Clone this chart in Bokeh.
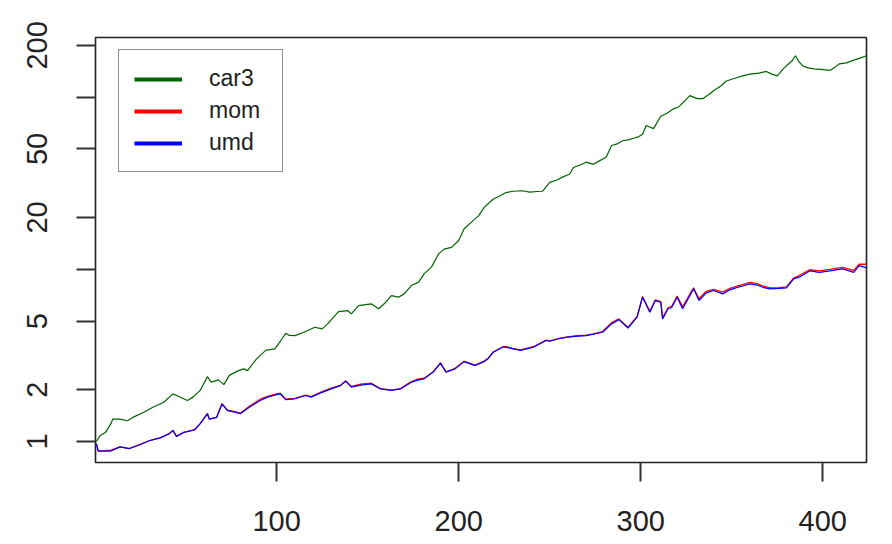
from bokeh.plotting import figure
from bokeh.models import (Range1d, FixedTicker, PrintfTickFormatter, Legend, LegendItem)
from bokeh.embed import file_html
from bokeh.resources import INLINE

# ---- data ----
car3_x = [1, 3, 6, 9, 10, 14, 18, 21, 27, 32, 38, 43, 46, 51, 54, 58, 62, 64, 68, 71,
          74, 79, 82, 84, 89, 94, 99, 103, 105, 107, 110, 115, 121, 125, 128, 134, 139,
          141, 145, 152, 156, 160, 163, 167, 170, 174, 178, 181, 185, 189, 192, 196, 200,
          203, 207, 211, 214, 219, 222, 226, 230, 235, 239, 243, 246, 250, 254, 257, 261,
          263, 267, 270, 274, 277, 281, 284, 287, 290, 293, 296, 299, 301, 303, 307, 311,
          314, 318, 321, 327, 331, 334, 337, 340, 344, 347, 350, 353, 356, 360, 365, 369,
          372, 375, 378, 380, 383, 385, 387, 389, 392, 395, 399, 404, 407, 409, 413, 417,
          420, 424]
car3_y = [1.0, 1.08, 1.13, 1.27, 1.35, 1.35, 1.32, 1.38, 1.48, 1.58, 1.69, 1.89, 1.83,
          1.73, 1.81, 1.98, 2.38, 2.21, 2.28, 2.14, 2.42, 2.58, 2.64, 2.58, 3.02, 3.38,
          3.45, 3.95, 4.25, 4.13, 4.12, 4.31, 4.61, 4.51, 4.82, 5.68, 5.76, 5.51, 6.16,
          6.3, 5.9, 6.44, 7.04, 6.89, 7.2, 8.05, 8.42, 9.4, 10.3, 12.3, 13.1, 13.4, 14.7,
          17.2, 18.8, 20.5, 22.9, 25.6, 26.5, 27.9, 28.4, 28.6, 28.1, 28.3, 28.4, 32.0,
          33.0, 34.3, 35.8, 39.0, 40.5, 41.9, 40.7, 42.5, 44.8, 52.4, 53.5, 55.8, 56.5,
          57.7, 59.0, 60.9, 68.4, 65.6, 77.5, 80.0, 85.5, 88.0, 102.0, 98.0, 98.0, 103.0,
          109.0, 116.0, 124.0, 127.0, 130.0, 133.0, 136.0, 138.0, 141.0, 136.0, 133.0,
          145.0, 152.0, 162.0, 174.0, 160.0, 152.0, 148.0, 146.0, 145.0, 143.0, 150.0,
          156.0, 158.0, 164.0, 168.0, 174.0]

fac_x = [1, 2, 9, 14, 19, 25, 30, 36, 41, 43, 45, 49, 55, 58, 62, 63, 67, 70, 73, 77,
         80, 85, 91, 95, 100, 102, 105, 110, 116, 119, 125, 130, 135, 138, 141, 147, 152,
         157, 163, 168, 174, 178, 181, 186, 190, 193, 198, 203, 209, 214, 216, 219, 224,
         226, 230, 234, 241, 248, 250, 255, 259, 264, 270, 274, 279, 284, 288, 293, 298,
         301, 305, 308, 311, 312, 315, 317, 320, 323, 329, 332, 336, 340, 345, 349, 353,
         356, 360, 364, 367, 371, 376, 380, 384, 387, 393, 398, 404, 408, 411, 417, 420,
         424]
umd_y = [0.97, 0.88, 0.88, 0.93, 0.91, 0.96, 1.01, 1.05, 1.11, 1.16, 1.07, 1.13, 1.17,
         1.27, 1.45, 1.35, 1.38, 1.65, 1.51, 1.48, 1.45, 1.58, 1.73, 1.81, 1.87, 1.89,
         1.75, 1.77, 1.85, 1.81, 1.93, 2.02, 2.11, 2.24, 2.07, 2.13, 2.16, 2.02, 1.98,
         2.02, 2.21, 2.28, 2.31, 2.53, 2.85, 2.53, 2.64, 2.91, 2.76, 2.91, 3.02, 3.30,
         3.53, 3.53, 3.45, 3.38, 3.53, 3.86, 3.82, 3.95, 4.02, 4.08, 4.12, 4.20, 4.31,
         4.82, 5.10, 4.56, 5.27, 6.89, 5.63, 6.58, 6.44, 5.15, 5.90, 6.00, 6.89, 5.90,
         7.70, 6.58, 7.30, 7.53, 7.20, 7.60, 7.86, 8.00, 8.23, 8.10, 7.86, 7.70, 7.75,
         7.80, 8.80, 9.00, 9.80, 9.60, 9.80, 9.95, 10.06, 9.60, 10.50, 10.20]
mom_y = [0.97, 0.88, 0.89, 0.93, 0.91, 0.96, 1.01, 1.05, 1.11, 1.16, 1.07, 1.13, 1.17,
         1.27, 1.45, 1.35, 1.38, 1.66, 1.52, 1.49, 1.46, 1.60, 1.76, 1.83, 1.89, 1.91,
         1.76, 1.78, 1.86, 1.82, 1.95, 2.04, 2.12, 2.25, 2.09, 2.16, 2.18, 2.03, 1.99,
         2.03, 2.23, 2.31, 2.33, 2.54, 2.86, 2.54, 2.66, 2.92, 2.78, 2.93, 3.03, 3.31,
         3.54, 3.55, 3.46, 3.40, 3.55, 3.88, 3.84, 3.97, 4.04, 4.11, 4.15, 4.22, 4.35,
         4.90, 5.15, 4.60, 5.32, 6.95, 5.70, 6.65, 6.50, 5.22, 5.98, 6.10, 7.00, 6.05,
         7.80, 6.75, 7.45, 7.65, 7.38, 7.75, 8.00, 8.15, 8.40, 8.25, 8.00, 7.80, 7.82,
         7.90, 8.90, 9.20, 9.95, 9.80, 10.00, 10.15, 10.25, 9.85, 10.70, 10.70]

series_names = ["car3", "mom", "umd"]
series_colors = ["#006400", "#ff0000", "#0000ff"]

x_ticks = [100, 200, 300, 400]
y_ticks = [1, 2, 5, 10, 20, 50, 100, 200]
y_tick_labels = ["1", "2", "5", "", "20", "50", "", "200"]

FONT = "Liberation Sans"
INK = "#222222"

p = figure(frame_width=771, frame_height=425, y_axis_type="log",
           x_range=Range1d(0.5, 424), y_range=Range1d(0.755, 222),
           output_backend="svg", toolbar_location=None,
           min_border_left=95, min_border_right=18, min_border_top=37,
           min_border_bottom=74)
p.background_fill_color = "white"
p.border_fill_color = "white"
p.outline_line_color = "#222222"
p.outline_line_width = 1.6
p.xgrid.visible = False
p.ygrid.visible = False

p.line(car3_x, car3_y, line_color=series_colors[0], line_width=1.2)
p.line(fac_x, mom_y, line_color=series_colors[1], line_width=1.3)
p.line(fac_x, umd_y, line_color=series_colors[2], line_width=1.2)

# legend swatches: thicker lines holding only each series' first value
# (a single-point line draws nothing in the plot area)
swatch_data = [(car3_x, car3_y), (fac_x, mom_y), (fac_x, umd_y)]
swatches = [p.line(xs[:1], ys[:1], line_color=c, line_width=4)
            for (xs, ys), c in zip(swatch_data, series_colors)]

for ax in (p.xaxis[0], p.yaxis[0]):
    ax.axis_line_color = None
    ax.major_tick_out = 19
    ax.major_tick_in = 0
    ax.minor_tick_line_color = None
    ax.major_tick_line_color = "#333333"
    ax.major_tick_line_width = 2
    ax.major_label_text_font = FONT
    ax.major_label_text_font_size = "29px"
    ax.major_label_text_color = INK
    ax.major_label_standoff = 29

p.xaxis[0].ticker = FixedTicker(ticks=x_ticks)
p.yaxis[0].ticker = FixedTicker(ticks=y_ticks)
p.yaxis[0].formatter = PrintfTickFormatter(format="%d")
p.yaxis[0].major_label_overrides = {t: s for t, s in zip(y_ticks, y_tick_labels)}
p.yaxis[0].major_label_orientation = "vertical"

legend = Legend(items=[LegendItem(label=n, renderers=[r]) for n, r in
                       zip(series_names, swatches)],
                location=(23, 290), margin=0, padding=15, spacing=5,
                glyph_width=48, glyph_height=26, label_height=26,
                label_width=58, label_standoff=27,
                label_text_font=FONT, label_text_font_size="23px",
                label_text_color=INK,
                border_line_color="#222222", border_line_width=1.6,
                background_fill_color="white", background_fill_alpha=1.0)
p.add_layout(legend)

open("out.html", "w").write(file_html(p, INLINE))
